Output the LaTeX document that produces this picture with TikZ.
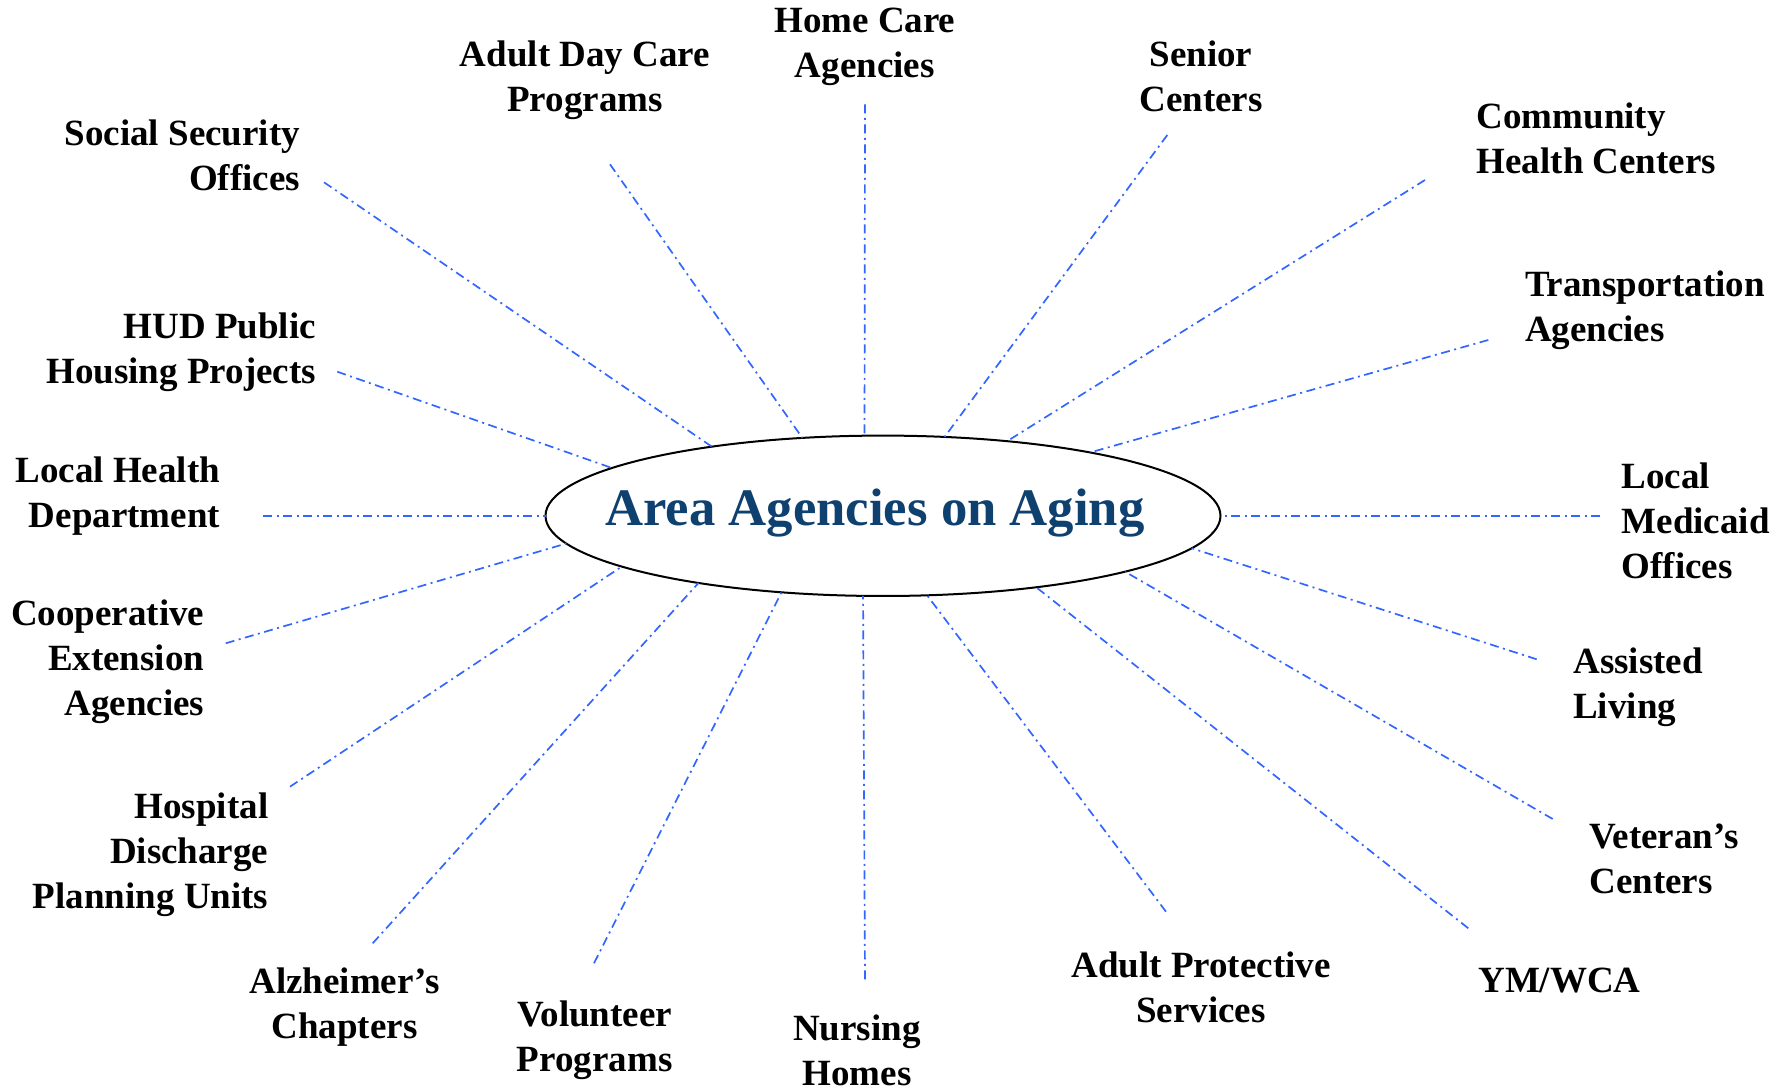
\documentclass[tikz,border=0pt]{standalone}
\usepackage{fontspec}
\setmainfont{Liberation Serif}
\usetikzlibrary{shapes.geometric}
\definecolor{linkblue}{RGB}{51,102,255}
\definecolor{titleblue}{RGB}{14,64,112}
\begin{document}
\begin{tikzpicture}[x=0.5pt,y=-0.5pt,
  lbl/.style={font=\fontsize{18.5}{22.5}\selectfont\bfseries, inner sep=0pt, outer sep=0pt, text=black},
  lblr/.style={lbl, align=right, anchor=north east},
  lbll/.style={lbl, align=left, anchor=north west},
  lblc/.style={lbl, align=center, anchor=north},
  link/.style={draw=linkblue, line width=0.85pt, dash pattern=on 4.5pt off 2.25pt on 1pt off 2.25pt},
  hubstyle/.style={ellipse, draw=black, line width=1pt, fill=white, minimum width=337.5pt, minimum height=80.2pt, inner sep=0pt, outer sep=0pt}]
\useasboundingbox (0,0) rectangle (1790,1090);

% central ellipse and title
\node[hubstyle] (hub) at (883,515.8) {};
\node[font=\fontsize{26.35}{30}\selectfont\bfseries, text=titleblue, anchor=base, inner sep=0pt] (title) at (875,526) {Area Agencies on Aging};

% labels
\node[lblc] (homecare) at (864.8,8.3) {Home Care\\Agencies};
\node[lblc] (adultday) at (585,40.7) {Adult Day Care\\Programs};
\node[lblc] (senior) at (1201,40.7) {Senior\\Centers};
\node[lblr] (social) at (300,120) {Social Security\\Offices};
\node[lbll] (community) at (1476.7,103.3) {Community\\Health Centers};
\node[lblr] (hud) at (316,312.7) {HUD Public\\Housing Projects};
\node[lbll] (transport) at (1525,270.7) {Transportation\\Agencies};
\node[lblr] (localhealth) at (220,456.7) {Local Health\\Department};
\node[lbll] (medicaid) at (1621.7,462.7) {Local\\Medicaid\\Offices};
\node[lblr] (coop) at (204.3,600) {Cooperative\\Extension\\Agencies};
\node[lbll] (assisted) at (1573.3,648.3) {Assisted\\Living};
\node[lblr] (hospital) at (268.3,792.7) {Hospital\\Discharge\\Planning Units};
\node[lbll] (veteran) at (1589.3,824) {Veteran’s\\Centers};
\node[lblc] (alz) at (344.6,968.3) {Alzheimer’s\\Chapters};
\node[lblc] (volunteer) at (594.7,1001) {Volunteer\\Programs};
\node[lblc] (nursing) at (857,1014.5) {Nursing\\Homes};
\node[lblc] (adultprot) at (1201,952.3) {Adult Protective\\Services};
\node[lbll] (ymwca) at (1478.3,967.7) {YM/WCA};

% free ends of the connectors, next to each label
\coordinate (e-homecare) at (865,104.3);
\coordinate (e-adultday) at (610,164.3);
\coordinate (e-senior) at (1167.3,135);
\coordinate (e-social) at (324,182.3);
\coordinate (e-community) at (1425,180);
\coordinate (e-hud) at (337.3,371.7);
\coordinate (e-transport) at (1488.3,340);
\coordinate (e-localhealth) at (263.3,515.8);
\coordinate (e-medicaid) at (1600,515.8);
\coordinate (e-coop) at (225.7,643.3);
\coordinate (e-assisted) at (1536.7,659.3);
\coordinate (e-hospital) at (290,786.7);
\coordinate (e-veteran) at (1552.7,819);
\coordinate (e-alz) at (372.7,943.3);
\coordinate (e-volunteer) at (594,963.3);
\coordinate (e-nursing) at (865,979.3);
\coordinate (e-adultprot) at (1166,911.7);
\coordinate (e-ymwca) at (1468.3,928.3);

% connectors
\draw[link] (e-homecare) -- (hub.103.5);
\draw[link] (e-adultday) -- (hub.136.3);
\draw[link] (e-senior) -- (hub.52.8);
\draw[link] (e-social) -- (hub.158.3);
\draw[link] (e-community) -- (hub.31.0);
\draw[link] (e-hud) -- (hub.170.3);
\draw[link] (e-transport) -- (hub.17.4);
\draw[link] (e-localhealth) -- (hub.180);
\draw[link] (e-medicaid) -- (hub.0);
\draw[link] (e-coop) -- (hub.185.8);
\draw[link] (e-assisted) -- (hub.354.4);
\draw[link] (e-hospital) -- (hub.191.7);
\draw[link] (e-veteran) -- (hub.347.7);
\draw[link] (e-alz) -- (hub.200.0);
\draw[link] (e-volunteer) -- (hub.217.4);
\draw[link] (e-nursing) -- (hub.256.5);
\draw[link] (e-adultprot) -- (hub.299.8);
\draw[link] (e-ymwca) -- (hub.335.2);
\end{tikzpicture}
\end{document}
